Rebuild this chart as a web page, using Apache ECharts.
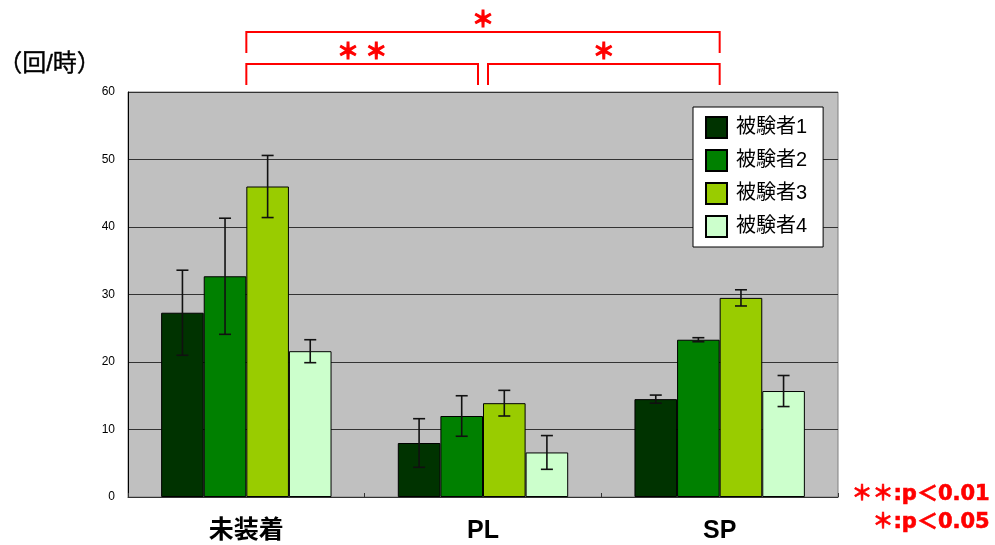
<!DOCTYPE html>
<html>
<head>
<meta charset="utf-8">
<script src="https://cdn.jsdelivr.net/npm/echarts@6/dist/echarts.min.js"></script>
<style>
  html, body { margin: 0; padding: 0; background: #fff; }
  #chart { width: 995px; height: 545px; }
</style>
</head>
<body>
<div id="chart"></div>
<script>
// Conditions on the x axis
const categories = ['未装着', 'PL', 'SP'];
const subjects = ['被験者1', '被験者2', '被験者3', '被験者4'];
const colors = ['#003300', '#008000', '#99CC00', '#CCFFCC'];

// Mean events per hour and standard deviation, per subject
const subject1Mean = [27.3, 8.0, 14.5];
const subject1Sd   = [6.3, 3.6, 0.6];
const subject2Mean = [32.7, 12.0, 23.3];
const subject2Sd   = [8.6, 3.0, 0.3];
const subject3Mean = [46.0, 13.9, 29.5];
const subject3Sd   = [4.6, 1.9, 1.2];
const subject4Mean = [21.6, 6.6, 15.7];
const subject4Sd   = [1.7, 2.5, 2.3];

const means = [subject1Mean, subject2Mean, subject3Mean, subject4Mean];
const sds = [subject1Sd, subject2Sd, subject3Sd, subject4Sd];

// y axis ticks
const yMin = 0, yMax = 60, yStep = 10;

// Significance comparisons: [from category, to category, bracket level, mark]
const comparisons = [
  [0, 2, 2, '＊'],
  [0, 1, 1, '＊ ＊'],
  [1, 2, 1, '＊']
];

const CAT_GAP = 0.28;
const FONT = '"Liberation Sans", "Noto Sans CJK JP", sans-serif';
const WIDE_FONT = '"DejaVu Sans", "Noto Sans CJK JP", sans-serif';

const chart = echarts.init(document.getElementById('chart'));

const barSeries = subjects.map((name, k) => ({
  name: name,
  type: 'bar',
  data: means[k],
  barGap: '0%',
  barCategoryGap: (CAT_GAP * 100) + '%',
  itemStyle: { color: colors[k], borderColor: '#000', borderWidth: 1 },
  z: 2
}));

const errorSeries = subjects.map((name, k) => ({
  type: 'custom',
  name: name + '-sd',
  data: means[k].map((m, i) => [i, m - sds[k][i], m + sds[k][i]]),
  encode: { x: 0, y: [1, 2] },
  z: 5,
  silent: true,
  renderItem: function (params, api) {
    const cat = api.value(0);
    const catW = api.size([1, 0])[0];
    const bw = catW * (1 - CAT_GAP) / subjects.length;
    const off = (k - (subjects.length - 1) / 2) * bw;
    const lo = api.coord([cat, api.value(1)]);
    const hi = api.coord([cat, api.value(2)]);
    const x = lo[0] + off;
    const cap = 6;
    const style = { stroke: '#111', lineWidth: 1.6 };
    return {
      type: 'group',
      children: [
        { type: 'line', shape: { x1: x, y1: lo[1], x2: x, y2: hi[1] }, style: style },
        { type: 'line', shape: { x1: x - cap, y1: hi[1], x2: x + cap, y2: hi[1] }, style: style },
        { type: 'line', shape: { x1: x - cap, y1: lo[1], x2: x + cap, y2: lo[1] }, style: style }
      ]
    };
  }
}));

// Brackets drawn above the plot area, anchored to category centres
const bracketSeries = {
  type: 'custom',
  name: 'brackets',
  data: comparisons.map(c => [c[0], c[1], c[2]]),
  encode: { x: [0, 1] },
  clip: false,
  silent: true,
  z: 10,
  renderItem: function (params, api) {
    const from = api.value(0), to = api.value(1), level = api.value(2);
    const mark = comparisons[params.dataIndex][3];
    const top = api.coord([from, yMax])[1];
    let x1 = api.coord([from, yMax])[0];
    let x2 = api.coord([to, yMax])[0];
    // inner brackets leave a small gap at the shared middle category
    if (level === 1) {
      if (from === 1) x1 += 5;
      if (to === 1) x2 -= 5;
    }
    const yTop = level === 2 ? top - 60 : top - 28;
    const yBot = level === 2 ? top - 39 : top - 7;
    const style = { stroke: '#FF0000', lineWidth: 2, fill: null };
    return {
      type: 'group',
      children: [
        { type: 'polyline', shape: { points: [[x1, yBot], [x1, yTop], [x2, yTop], [x2, yBot]] }, style: style },
        {
          type: 'text',
          x: (x1 + x2) / 2,
          y: yTop - 11,
          style: {
            text: mark,
            fill: '#FF0000',
            stroke: '#FF0000',
            lineWidth: 1.2,
            font: 'bold 22px ' + FONT,
            align: 'center',
            verticalAlign: 'middle'
          }
        }
      ]
    };
  }
};

chart.setOption({
  animation: false,
  backgroundColor: '#fff',
  grid: {
    left: 128, right: 157, top: 92, bottom: 48,
    show: true,
    backgroundColor: '#C0C0C0',
    borderColor: '#808080',
    borderWidth: 1
  },
  legend: {
    data: subjects,
    orient: 'vertical',
    left: 693,
    top: 107,
    icon: 'rect',
    itemWidth: 21,
    itemHeight: 21,
    itemGap: 10,
    padding: [9, 16, 9, 12],
    backgroundColor: '#fff',
    borderColor: '#000',
    borderWidth: 1,
    textStyle: { fontSize: 20, color: '#000', fontFamily: FONT, padding: [0, 0, 0, 4] }
  },
  xAxis: {
    type: 'category',
    data: categories,
    axisLine: { lineStyle: { color: '#333', width: 1 } },
    axisTick: { show: true, inside: true, length: 4, lineStyle: { color: '#333' } },
    axisLabel: {
      fontSize: 25,
      fontWeight: 'bold',
      color: '#000',
      fontFamily: FONT,
      margin: 22
    }
  },
  yAxis: {
    type: 'value',
    min: yMin,
    max: yMax,
    interval: yStep,
    axisLine: { show: true, lineStyle: { color: '#000', width: 1 } },
    axisTick: { show: false },
    axisLabel: { fontSize: 12, color: '#000', fontFamily: FONT, margin: 13 },
    splitLine: { lineStyle: { color: '#333', width: 1 } }
  },
  graphic: [
    {
      type: 'text',
      left: -2,
      top: 52,
      style: { text: '（回/時）', font: '24px ' + FONT, fill: '#000', stroke: '#000', lineWidth: 0.4 }
    },
    {
      type: 'text',
      right: 5,
      top: 484,
      style: { text: '＊＊:p＜0.01', font: 'bold 21px ' + WIDE_FONT, fill: '#FF0000', stroke: '#FF0000', lineWidth: 0.6, align: 'right' }
    },
    {
      type: 'text',
      right: 5,
      top: 512,
      style: { text: '＊:p＜0.05', font: 'bold 21px ' + WIDE_FONT, fill: '#FF0000', stroke: '#FF0000', lineWidth: 0.6, align: 'right' }
    }
  ],
  series: barSeries.concat(errorSeries, [bracketSeries])
});
</script>
</body>
</html>
